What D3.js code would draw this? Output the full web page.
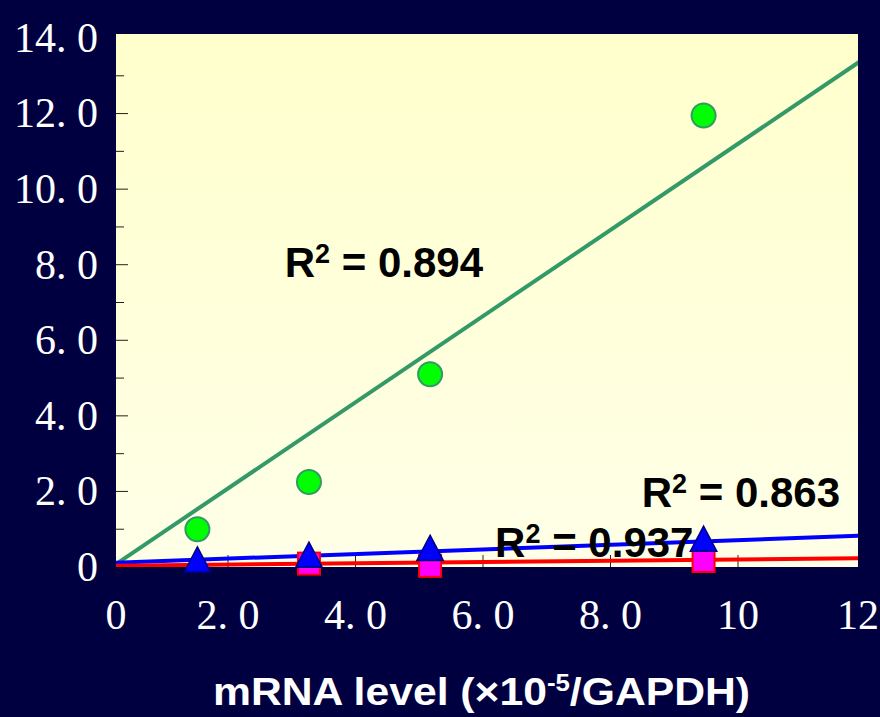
<!DOCTYPE html>
<html lang="en">
<head>
  <meta charset="UTF-8">
  <title>mRNA level scatter with trendlines</title>
  <style>
    body { margin: 0; background: #000040; }
    .tick-label { fill: #fff; font-family: "Liberation Serif", serif; font-size: 42px; }
    .r2 { fill: #000; font-family: "Liberation Sans", Arial, sans-serif; font-weight: bold; font-size: 42px; }
    .title { fill: #fff; font-family: "Liberation Sans", Arial, sans-serif; font-weight: bold; font-size: 38px; }
  </style>
  <script src="https://d3js.org/d3.v7.min.js"></script>
</head>
<body>
<div id="chart"></div>
<script>
  // Data
  var xVals = [1.52, 3.27, 5.17, 9.46];
  var greenVals = [1.0, 2.25, 5.1, 11.95];
  var blueVals = [0.14, 0.27, 0.45, 0.69];
  var redVals = [null, 0.09, 0.03, 0.16];

  // trendlines: [intercept, slope]
  var greenTrend = [-0.2, 1.14];
  var blueTrend = [0.1, 0.061];
  var redTrend = [0.03, 0.017];

  var xTicks = [0, 2, 4, 6, 8, 10, 12];
  var xTickLabels = ["0", "2. 0", "4. 0", "6. 0", "8. 0", "10", "12"];
  var yTicks = [0, 2, 4, 6, 8, 10, 12, 14];
  var yTickLabels = ["0", "2. 0", "4. 0", "6. 0", "8. 0", "10. 0", "12. 0", "14. 0"];

  // R² labels, anchored in data coordinates
  var notes = [
    { x: 2.89, y: 7.67, r2: "0.894" },
    { x: 8.49, y: 1.59, r2: "0.863" },
    { x: 6.19, y: 0.26, r2: "0.937" }
  ];

  var width = 880, height = 717;
  var box = { left: 116, right: 858, top: 34, bottom: 567 };

  var svg = d3.select("#chart").append("svg")
    .attr("width", width)
    .attr("height", height);

  var x = d3.scaleLinear().domain([0, 12]).range([100.5, 865.5]);
  var y = d3.scaleLinear().domain([0, 14]).range([567, 38]);

  // plot background gradient
  var defs = svg.append("defs");
  var grad = defs.append("linearGradient")
    .attr("id", "bg").attr("x1", 0).attr("y1", 0).attr("x2", 0).attr("y2", 1);
  grad.append("stop").attr("offset", "0%").attr("stop-color", "#ffffcc");
  grad.append("stop").attr("offset", "100%").attr("stop-color", "#ffffe8");

  defs.append("clipPath").attr("id", "clip")
    .append("rect")
    .attr("x", box.left).attr("y", box.top)
    .attr("width", box.right - box.left).attr("height", box.bottom - box.top);

  svg.append("rect")
    .attr("x", box.left).attr("y", box.top)
    .attr("width", box.right - box.left).attr("height", box.bottom - box.top)
    .attr("fill", "url(#bg)");

  // y ticks (every 1, longer on even values)
  svg.append("g")
    .selectAll("line")
    .data(d3.range(1, 14))
    .enter().append("line")
    .attr("x1", box.left)
    .attr("x2", d => box.left + (d % 2 === 0 ? 12 : 8))
    .attr("y1", d => y(d))
    .attr("y2", d => y(d))
    .attr("stroke", "#222")
    .attr("stroke-width", 1);

  // x ticks
  svg.append("g")
    .selectAll("line")
    .data(xTicks.filter(d => d > 0 && d < 12))
    .enter().append("line")
    .attr("x1", d => x(d))
    .attr("x2", d => x(d))
    .attr("y1", box.bottom)
    .attr("y2", box.bottom - 12)
    .attr("stroke", "#222")
    .attr("stroke-width", 1);

  // trendlines
  var plot = svg.append("g").attr("clip-path", "url(#clip)");
  var trends = [
    { t: greenTrend, color: "#339966" },
    { t: blueTrend, color: "#0000ff" },
    { t: redTrend, color: "#ff0000" }
  ];
  plot.selectAll("line.trend")
    .data(trends)
    .enter().append("line")
    .attr("class", "trend")
    .attr("x1", x(0))
    .attr("y1", d => y(d.t[0]))
    .attr("x2", x(12))
    .attr("y2", d => y(d.t[0] + d.t[1] * 12))
    .attr("stroke", d => d.color)
    .attr("stroke-width", 4);

  // markers
  var greenPts = xVals.map((v, i) => [v, greenVals[i]]);
  var bluePts = xVals.map((v, i) => [v, blueVals[i]]);
  var redPts = xVals.map((v, i) => [v, redVals[i]]).filter(d => d[1] !== null);

  svg.append("g")
    .selectAll("rect")
    .data(redPts)
    .enter().append("rect")
    .attr("x", d => x(d[0]) - 11)
    .attr("y", d => y(d[1]) - 11)
    .attr("width", 22)
    .attr("height", 22)
    .attr("fill", "#ff00ff")
    .attr("stroke", "#ff0000")
    .attr("stroke-width", 2);

  var tri = d3.symbol().type(d3.symbolTriangle).size(300);
  svg.append("g")
    .selectAll("path")
    .data(bluePts)
    .enter().append("path")
    .attr("d", tri)
    .attr("transform", d => "translate(" + x(d[0]) + "," + (y(d[1]) + 2) + ") scale(1,1.1)")
    .attr("fill", "#0000ff")
    .attr("stroke", "#000080")
    .attr("stroke-width", 1.5);

  svg.append("g")
    .selectAll("circle")
    .data(greenPts)
    .enter().append("circle")
    .attr("cx", d => x(d[0]))
    .attr("cy", d => y(d[1]))
    .attr("r", 12)
    .attr("fill", "#00ff00")
    .attr("stroke", "#339966")
    .attr("stroke-width", 2);

  // R² annotations
  var note = svg.append("g")
    .selectAll("text")
    .data(notes)
    .enter().append("text")
    .attr("class", "r2")
    .attr("x", d => x(d.x))
    .attr("y", d => y(d.y));
  note.append("tspan").text("R");
  note.append("tspan").attr("dy", -14).attr("font-size", 27).text("2");
  note.append("tspan").attr("dy", 14).text(d => " = " + d.r2);

  // tick labels
  svg.append("g")
    .selectAll("text")
    .data(yTicks)
    .enter().append("text")
    .attr("class", "tick-label")
    .attr("x", 98)
    .attr("y", d => y(d))
    .attr("dy", "0.33em")
    .attr("text-anchor", "end")
    .text((d, i) => yTickLabels[i]);

  svg.append("g")
    .selectAll("text")
    .data(xTicks)
    .enter().append("text")
    .attr("class", "tick-label")
    .attr("x", d => Math.min(Math.max(x(d), box.left), box.right))
    .attr("y", 615)
    .attr("dy", "0.33em")
    .attr("text-anchor", "middle")
    .text((d, i) => xTickLabels[i]);

  // axis title
  var title = svg.append("text")
    .attr("class", "title")
    .attr("x", 213)
    .attr("y", 705)
    .attr("textLength", 537)
    .attr("lengthAdjust", "spacingAndGlyphs");
  title.append("tspan").text("mRNA level (×10");
  title.append("tspan").attr("dy", -14).attr("font-size", 23).text("-5");
  title.append("tspan").attr("dy", 14).text("/GAPDH)");
</script>
</body>
</html>
